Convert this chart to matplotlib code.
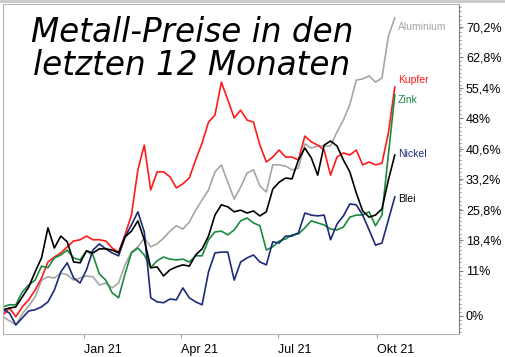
import matplotlib
matplotlib.use('Agg')
import matplotlib.pyplot as plt
from matplotlib.ticker import FixedLocator, MultipleLocator
from matplotlib.lines import Line2D
import pandas as pd

dates = pd.date_range('2020-10-17', periods=62, freq='6D')

kupfer = [0.2, 1.9, -0.2, 2.2, 3.9, 6.3, 9.2, 13.1, 14.3, 15.3, 16.8, 18.2, 18.5, 19.4, 18.5, 18.5,
          18.2, 16.5, 15.5, 19.7, 24.5, 35.5, 41.5, 30.6, 35.0, 35.0, 33.8, 31.1, 32.1, 33.5, 37.9,
          42.0, 47.1, 48.8, 56.8, 52.5, 48.1, 50.0, 47.6, 47.1, 41.5, 37.4, 38.6, 40.3, 38.6, 38.6,
          37.9, 43.7, 42.3, 41.5, 40.3, 34.2, 38.6, 39.6, 39.1, 40.3, 36.7, 37.4, 36.7, 37.1, 44.4, 55.6]

aluminium = [-0.2, -1.2, -2.2, 0.5, 2.4, 4.6, 8.7, 9.5, 9.2, 10.4, 10.0, 8.7, 9.2, 9.7, 9.5, 7.5,
             8.0, 6.8, 8.0, 12.4, 15.5, 16.8, 18.9, 16.8, 17.5, 18.9, 20.6, 21.9, 21.1, 22.8, 25.7,
             28.2, 30.6, 35.0, 36.7, 32.5, 28.4, 31.3, 34.7, 35.5, 31.6, 30.1, 36.7, 36.7, 36.4, 35.5,
             35.9, 41.8, 40.8, 41.3, 41.3, 41.3, 44.7, 47.6, 51.3, 57.3, 57.6, 58.3, 56.8, 57.8, 68.0, 72.4]

blei = [1.5, 1.9, 2.2, 4.6, 7.0, 10.7, 14.1, 21.4, 16.5, 19.4, 18.0, 13.1, 12.9, 15.8, 15.3, 16.3,
        16.3, 16.0, 15.3, 19.2, 20.6, 23.1, 18.5, 11.7, 11.9, 9.7, 11.2, 11.9, 12.4, 12.1, 14.8,
        16.3, 19.4, 24.5, 27.0, 26.5, 25.3, 25.7, 25.0, 25.5, 24.3, 25.3, 30.8, 32.5, 33.5, 33.3,
        37.9, 40.8, 38.4, 34.2, 41.5, 42.5, 41.3, 37.9, 35.0, 29.9, 25.5, 24.0, 24.5, 26.0, 33.0, 39.1]

zink = [2.2, 2.7, 2.7, 5.8, 7.5, 8.7, 12.1, 11.7, 14.1, 14.8, 16.0, 14.1, 13.6, 15.8, 14.8, 10.2,
        8.7, 5.6, 4.4, 10.2, 15.3, 16.5, 14.8, 11.7, 13.4, 14.3, 13.8, 13.6, 13.8, 13.1, 14.6,
        14.6, 18.5, 20.4, 20.6, 19.7, 20.9, 23.1, 23.8, 22.6, 21.9, 16.0, 16.8, 18.2, 18.7, 19.7,
        19.9, 21.4, 23.1, 22.6, 22.1, 21.1, 20.9, 21.6, 24.0, 24.5, 24.5, 25.3, 21.9, 24.5, 39.1, 53.7]

nickel = [1.5, 0.7, -2.2, -0.5, 1.2, 1.5, 2.2, 3.4, 6.3, 10.7, 12.9, 9.2, 8.0, 11.2, 16.0, 17.5,
          16.3, 15.3, 14.6, 19.2, 22.1, 25.3, 20.4, 4.4, 3.4, 3.2, 4.1, 3.9, 6.8, 4.4, 3.4,
          2.7, 10.7, 15.3, 15.5, 15.5, 8.7, 13.1, 14.1, 14.8, 13.1, 12.4, 18.0, 17.7, 19.4, 19.4,
          20.2, 25.0, 24.5, 24.3, 24.5, 18.5, 22.3, 24.3, 27.2, 27.0, 24.5, 20.9, 17.2, 17.7, 23.3, 28.9]

tick_values = [0, 11, 18.4, 25.8, 33.2, 40.6, 48, 55.4, 62.8, 70.2]
month_ticks = ['2021-01-01', '2021-04-01', '2021-07-01', '2021-10-01']
month_labels = ['Jan 21', 'Apr 21', 'Jul 21', 'Okt 21']

# Beschriftung rechts neben den Linien
label_names = ['Aluminium', 'Kupfer', 'Zink', 'Nickel', 'Blei']
label_y = [70.2, 57.3, 52.5, 39.3, 28.4]
label_colors = ['#a6a6a6', '#ff1a1a', '#1a8a40', '#1c2a78', 'black']

plt.rcParams['font.family'] = ['Liberation Sans', 'DejaVu Sans']

fig = plt.figure(figsize=(5.06, 3.57), dpi=100)
ax = fig.add_axes([3 / 506, 23 / 357, 456 / 506, 330 / 357])

ax.plot(dates, aluminium, color='#a6a6a6', lw=1.2)
ax.plot(dates, kupfer, color='#ff1a1a', lw=1.2)
ax.plot(dates, zink, color='#1a8a40', lw=1.2)
ax.plot(dates, nickel, color='#1c2a78', lw=1.2)
ax.plot(dates, blei, color='black', lw=1.2)

ax.set_xlim(pd.Timestamp('2020-10-17'), pd.Timestamp('2021-12-17'))
ax.set_ylim(-4.4, 75.8)

# y-Achse rechts
ax.yaxis.tick_right()
ax.yaxis.set_major_locator(FixedLocator(tick_values))
ax.set_yticklabels([('%g' % v).replace('.', ',') + '%' for v in tick_values])
ax.yaxis.set_minor_locator(MultipleLocator(1))
ax.tick_params(axis='y', which='major', length=3, width=0.8, color='#808080', pad=2, labelsize=9)
ax.tick_params(axis='y', which='minor', length=1.5, width=0.6, color='#808080')

ax.set_xticks([pd.Timestamp(d) for d in month_ticks])
ax.set_xticklabels(month_labels, ha='left')
ax.tick_params(axis='x', length=3, width=0.8, color='#a0a0a0', pad=4, labelsize=9)

for side in ['left', 'top', 'bottom']:
    ax.spines[side].set_color('#b4b4b4')
    ax.spines[side].set_linewidth(0.8)
ax.spines['right'].set_color('#808080')
ax.spines['right'].set_linewidth(0.8)

for name, y, c in zip(label_names, label_y, label_colors):
    ax.text(pd.Timestamp('2021-10-21'), y, name, color=c, fontsize=7.5, va='center')

ax.text(0.414, 0.965, 'Metall-Preise in den\nletzten 12 Monaten', transform=ax.transAxes,
        ha='center', va='top', fontsize=23.5, color='black', family=['DejaVu Sans'],
        fontstyle='oblique', fontweight='light', linespacing=1.0)

fig.add_artist(Line2D([0, 1], [0.997, 0.997], transform=fig.transFigure, color='#c8c8c8', lw=2))

fig.savefig('out.png', dpi=100)
